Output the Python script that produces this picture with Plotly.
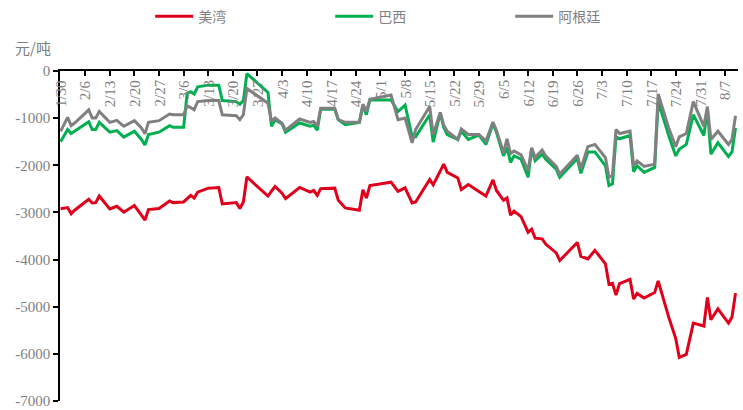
import plotly.graph_objects as go

# Trading-day dates (2023) and spread values, 元/吨
dates = [
    "2023-01-30", "2023-02-01", "2023-02-02", "2023-02-03", "2023-02-07", "2023-02-08",
    "2023-02-09", "2023-02-10", "2023-02-13", "2023-02-15", "2023-02-17", "2023-02-20",
    "2023-02-22", "2023-02-23", "2023-02-24", "2023-02-27", "2023-03-02", "2023-03-03",
    "2023-03-06", "2023-03-07", "2023-03-08", "2023-03-09", "2023-03-10", "2023-03-13",
    "2023-03-16", "2023-03-17", "2023-03-21", "2023-03-22", "2023-03-23", "2023-03-24",
    "2023-03-30", "2023-03-31", "2023-04-01", "2023-04-03", "2023-04-04", "2023-04-08",
    "2023-04-11", "2023-04-12", "2023-04-13", "2023-04-14", "2023-04-18", "2023-04-19",
    "2023-04-21", "2023-04-25", "2023-04-26", "2023-04-27", "2023-04-28", "2023-05-04",
    "2023-05-06", "2023-05-08", "2023-05-10", "2023-05-11", "2023-05-15", "2023-05-16",
    "2023-05-18", "2023-05-19", "2023-05-20", "2023-05-23", "2023-05-24", "2023-05-26",
    "2023-05-29", "2023-05-31", "2023-06-02", "2023-06-03", "2023-06-05", "2023-06-06",
    "2023-06-07", "2023-06-08", "2023-06-10", "2023-06-12", "2023-06-13", "2023-06-14",
    "2023-06-16", "2023-06-17", "2023-06-20", "2023-06-21", "2023-06-26", "2023-06-27",
    "2023-06-29", "2023-07-01", "2023-07-04", "2023-07-05", "2023-07-06", "2023-07-07",
    "2023-07-08", "2023-07-11", "2023-07-12", "2023-07-13", "2023-07-15", "2023-07-18",
    "2023-07-19", "2023-07-22", "2023-07-24", "2023-07-25", "2023-07-27", "2023-07-29",
    "2023-08-01", "2023-08-02", "2023-08-03", "2023-08-05", "2023-08-08", "2023-08-09",
    "2023-08-10",
]

us_gulf = [
    -2920, -2897, -3029, -2953, -2722, -2799, -2792, -2652, -2925, -2869, -2994, -2855,
    -3057, -3162, -2939, -2918, -2757, -2792, -2778, -2700, -2638, -2694, -2569, -2485,
    -2471, -2820, -2792, -2918, -2778, -2248, -2652, -2550, -2450, -2590, -2708, -2471,
    -2569, -2534, -2638, -2495, -2485, -2743, -2904, -2953, -2520, -2694, -2429, -2359,
    -2555, -2478, -2799, -2778, -2303, -2415, -2110, -1975, -2150, -2268, -2513, -2408,
    -2555, -2652, -2310, -2534, -2743, -2694, -3057, -2973, -3090, -3420, -3357, -3546,
    -3560, -3672, -3860, -4020, -3637, -3930, -3986, -3804, -4090, -4523, -4502, -4753,
    -4509, -4418, -4837, -4718, -4816, -4700, -4453, -5221, -5675, -6073, -6010, -5347,
    -5410, -4802, -5277, -5047, -5347, -5221, -4712,
]

brazil = [
    -1500, -1242, -1326, -1277, -1075, -1242, -1242, -1089, -1298, -1263, -1403, -1277,
    -1452, -1571, -1347, -1298, -1159, -1194, -1194, -475, -440, -489, -335, -300,
    -300, -628, -649, -705, -628, -56, -454, -1173, -1033, -1124, -1298, -1103,
    -1173, -1150, -1256, -810, -810, -1033, -1138, -1089, -733, -928, -614, -614,
    -859, -722, -1389, -1396, -928, -1508, -893, -1200, -1347, -1452, -1277, -1452,
    -1360, -1557, -1117, -1300, -1801, -1620, -1940, -1801, -1871, -2255, -1647, -1906,
    -1766, -1871, -2080, -2255, -1857, -2171, -1717, -1717, -2010, -2429, -2394, -1396,
    -1438, -1368, -2136, -2010, -2150, -2045, -649, -1368, -1801, -1660, -1557, -928,
    -1368, -810, -1766, -1522, -1815, -1717, -1208,
]

argentina = [
    -1280, -984, -1159, -1103, -824, -998, -998, -859, -1089, -1047, -1173, -1054,
    -1208, -1333, -1089, -1054, -914, -928, -928, -740, -775, -824, -649, -628,
    -628, -928, -949, -1033, -928, -370, -684, -1068, -998, -1110, -1256, -1019,
    -1089, -1070, -1173, -789, -789, -1033, -1089, -1089, -705, -859, -600, -510,
    -1033, -998, -1522, -1242, -754, -1350, -880, -1150, -1277, -1452, -1228, -1347,
    -1347, -1487, -1082, -1260, -1731, -1438, -1750, -1696, -1780, -2115, -1627, -1836,
    -1675, -1801, -2024, -2185, -1787, -2080, -1605, -1557, -1836, -2255, -2206, -1242,
    -1326, -1277, -2010, -1906, -2024, -1975, -489, -1208, -1605, -1396, -1326, -649,
    -1173, -754, -1452, -1277, -1557, -1452, -949,
]

series_names = ["美湾", "巴西", "阿根廷"]
series_colors = ["#E0001B", "#00B050", "#808080"]

# Weekly date ticks on the top (zero) axis
tick_dates = [
    "2023-01-30", "2023-02-06", "2023-02-13", "2023-02-20", "2023-02-27", "2023-03-06",
    "2023-03-13", "2023-03-20", "2023-03-27", "2023-04-03", "2023-04-10", "2023-04-17",
    "2023-04-24", "2023-05-01", "2023-05-08", "2023-05-15", "2023-05-22", "2023-05-29",
    "2023-06-05", "2023-06-12", "2023-06-19", "2023-06-26", "2023-07-03", "2023-07-10",
    "2023-07-17", "2023-07-24", "2023-07-31", "2023-08-07",
]
tick_labels = [
    "1/30", "2/6", "2/13", "2/20", "2/27", "3/6", "3/13", "3/20", "3/27", "4/3",
    "4/10", "4/17", "4/24", "5/1", "5/8", "5/15", "5/22", "5/29", "6/5", "6/12",
    "6/19", "6/26", "7/3", "7/10", "7/17", "7/24", "7/31", "8/7",
]

y_ticks = [0, -1000, -2000, -3000, -4000, -5000, -6000, -7000]
y_tick_labels = ["0", "-1000", "-2000", "-3000", "-4000", "-5000", "-6000", "-7000"]

label_gray = "#7F7F7F"
serif = "Liberation Serif, Times New Roman, DejaVu Serif, serif"
cjk = "Noto Sans CJK SC"

fig = go.Figure()
for name, vals, color in zip(series_names, [us_gulf, brazil, argentina], series_colors):
    fig.add_trace(go.Scatter(
        x=dates, y=vals, name=name, mode="lines",
        line=dict(color=color, width=3),
    ))

# rotated date labels hanging just below the zero line
date_annotations = [
    dict(
        x=d, y=0, xref="x", yref="y", text=t, textangle=-90,
        xanchor="center", yanchor="top", yshift=-7, showarrow=False,
        font=dict(family=serif, size=15, color=label_gray),
    )
    for d, t in zip(tick_dates, tick_labels)
]

fig.update_layout(
    width=743, height=410,
    margin=dict(l=60, r=5, t=71, b=9, autoexpand=False),
    paper_bgcolor="white", plot_bgcolor="white",
    showlegend=True,
    legend=dict(
        orientation="h", x=0.133, xanchor="left", y=1.165, yanchor="middle",
        itemwidth=38, entrywidth=127, entrywidthmode="pixels",
        font=dict(family=cjk, size=14, color=label_gray),
        bgcolor="rgba(0,0,0,0)",
    ),
    annotations=date_annotations + [dict(
        text="元/吨", xref="paper", yref="paper", x=-0.07, y=1.07,
        xanchor="left", yanchor="middle", showarrow=False,
        font=dict(family=cjk, size=15, color=label_gray),
    )],
)

fig.update_xaxes(
    type="date", side="top",
    range=["2023-01-29 20:00", "2023-08-10 17:00"],
    tickvals=tick_dates, showticklabels=False,
    ticks="inside", ticklen=5, tickcolor="black", tickwidth=1.5,
    showline=True, linecolor="black", linewidth=1.5,
    showgrid=False, zeroline=False,
)

fig.update_yaxes(
    range=[-7000, 0], tickvals=y_ticks, ticktext=y_tick_labels,
    ticklabeloverflow="allow",
    ticks="outside", ticklen=5, tickcolor="black", tickwidth=1.5,
    showline=True, linecolor="black", linewidth=1.5,
    showgrid=False, zeroline=False,
    tickfont=dict(family=serif, size=15, color=label_gray),
)

fig.write_html("out.html")
